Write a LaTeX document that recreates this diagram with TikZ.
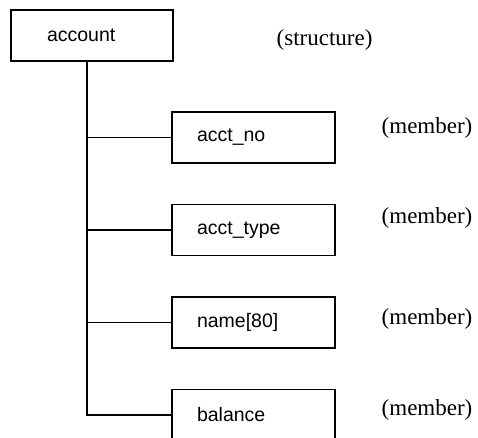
\documentclass[tikz,border=0pt]{standalone}
\usepackage{fontspec}
\setmainfont{Liberation Serif}
\newfontfamily\boxfont{Liberation Sans}
\usetikzlibrary{positioning}

\begin{document}
\begin{tikzpicture}[x=1pt, y=-1pt, line width=1.4pt, node distance=92.5pt,
  fieldbox/.style={draw, rectangle, minimum height=51pt, inner xsep=25pt, text width=113pt, align=left, font=\boxfont\fontsize{19.5}{22}\selectfont},
  kindlabel/.style={anchor=west, inner sep=0pt, font=\fontsize{23}{26}\selectfont}]
\useasboundingbox (0,0) rectangle (478,437);
\clip (0,0) rectangle (478,437);

% structure and its members
\node[fieldbox, inner xsep=36pt, text width=90pt] (account) at (92,35.5) {account};
\node[fieldbox] (acctno) at (253.5,137.5) {acct\_no};
\node[fieldbox] (accttype) [below of=acctno] {acct\_type};
\node[fieldbox] (name) [below of=accttype] {name[80]};
\node[fieldbox] (balance) [below of=name] {balance};

% labels on the right
\node[kindlabel] (structlbl) at (276,40) {(structure)};
\node[kindlabel] (lblno) at (381,128) {(member)};
\node[kindlabel] (lbltype) at (381,218) {(member)};
\node[kindlabel] (lblname) at (381,319) {(member)};
\node[kindlabel] (lblbal) at (381,410) {(member)};

% tree lines
\coordinate (trunk) at (87,61);
\draw (trunk) |- (acctno.west);
\draw (trunk) |- (accttype.west);
\draw (trunk) |- (name.west);
\draw (trunk) |- (balance.west);
\end{tikzpicture}
\end{document}
